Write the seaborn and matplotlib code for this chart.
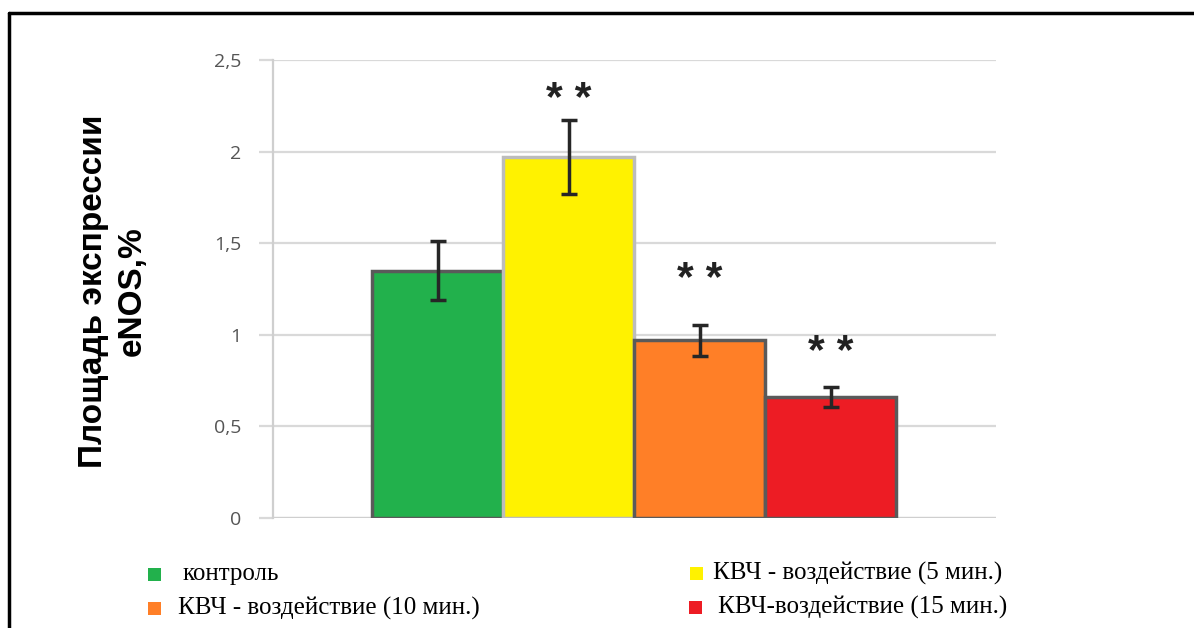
import matplotlib
matplotlib.use("Agg")
import matplotlib.pyplot as plt
import seaborn as sns
import pandas as pd
from matplotlib.patches import Rectangle
from matplotlib.lines import Line2D

groups = ["контроль", "КВЧ - воздействие (5 мин.)", "КВЧ - воздействие (10 мин.)", "КВЧ-воздействие (15 мин.)"]
values = [1.35, 1.97, 0.97, 0.66]
errors = [0.16, 0.20, 0.085, 0.055]
stars = ["", "* *", "* *", "* *"]
star_y = [0, 2.325, 1.343, 0.944]
colors = ["#22b14c", "#fff200", "#ff7f27", "#ed1c24"]
edges = ["#5a5a5a", "#bcbcbc", "#5a5a5a", "#5a5a5a"]
yticks = [0, 0.5, 1, 1.5, 2, 2.5]
ytick_labels = ["0", "0,5", "1", "1,5", "2", "2,5"]

sns.set_theme(style="white")
plt.rcParams["font.family"] = ["DejaVu Sans"]

W, H = 1194, 628
fig = plt.figure(figsize=(W / 100, H / 100), dpi=100)
ax = fig.add_axes([273 / W, 1 - 518 / H, (996 - 273) / W, (518 - 60) / H])

df = pd.DataFrame({"group": groups, "value": values})
sns.barplot(data=df, x="group", y="value", hue="group", palette=colors,
            saturation=1, width=1.0, errorbar=None, legend=False, ax=ax, zorder=3)
for patch, ec in zip(ax.patches, edges):
    patch.set_edgecolor(ec)
    patch.set_linewidth(2.5)

ax.errorbar(range(len(values)), values, yerr=errors, fmt="none",
            ecolor="#262626", elinewidth=2.5, capsize=6, capthick=2.5, zorder=5)

for i, s in enumerate(stars):
    if s:
        ax.text(i, star_y[i] - 0.043, s, ha="center", va="center",
                fontsize=31, fontweight="bold", color="#222222",
                fontfamily="Liberation Sans")

ax.set_xlim(-1.256, 4.263)
ax.set_ylim(0, 2.5)
ax.set_yticks(yticks)
ax.set_yticklabels(ytick_labels, fontsize=14, color="#555555", fontfamily="Open Sans")
ax.set_xticks([])
ax.set_xlabel("")
ax.set_ylabel("")
ax.yaxis.grid(True, color="#d9d9d9", linewidth=1.6, zorder=0)
ax.set_axisbelow(True)
ax.tick_params(axis="y", length=10, width=1.6, color="#d9d9d9", left=True, pad=13)
for side in ["top", "right", "bottom"]:
    ax.spines[side].set_visible(False)
ax.spines["left"].set_color("#cfcfcf")
ax.spines["left"].set_linewidth(1.6)
ax.axhline(0, color="#cfcfcf", linewidth=1.6, zorder=1)

fig.text(113 / W, 1 - 291 / H, "Площадь экспрессии\neNOS,%", rotation=90,
         ha="center", va="center", fontsize=24, fontweight="bold",
         fontfamily="Liberation Sans", linespacing=1.35, color="#000000")

# frame
fig.add_artist(Line2D([9 / W, 1.0], [1 - 13 / H, 1 - 13 / H], color="black", linewidth=2.5))
fig.add_artist(Line2D([9 / W, 9 / W], [0, 1 - 13 / H], color="black", linewidth=2.5))

legend_items = [
    (148, 574, 183, 0),
    (690, 573, 713, 1),
    (148, 608, 178, 2),
    (689, 607, 718, 3),
]
sq = 13
for sx, sy, tx, idx in legend_items:
    fig.add_artist(Rectangle((sx / W, 1 - (sy + sq / 2) / H), sq / W, sq / H,
                             facecolor=colors[idx], edgecolor="none"))
    fig.text(tx / W, 1 - sy / H, groups[idx], ha="left", va="center",
             fontsize=18, fontfamily="Liberation Serif", color="#000000")

fig.savefig("out.png", dpi=100)
